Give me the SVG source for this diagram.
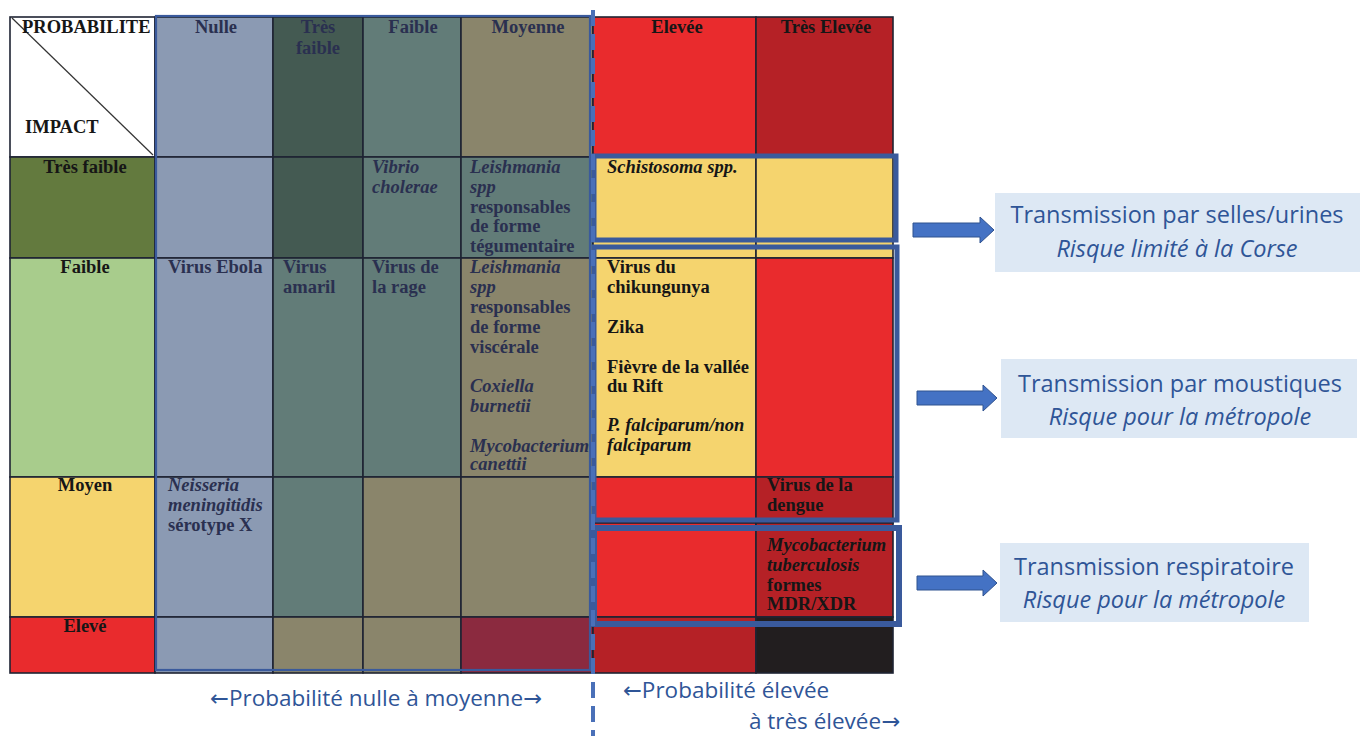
<svg xmlns="http://www.w3.org/2000/svg" width="1365" height="736" viewBox="0 0 1365 736">
<defs>
<style>
.c{stroke:#1F2333;stroke-width:1.6}
.t{font-family:"Liberation Serif","Times New Roman",serif;font-weight:bold;font-size:18.5px;fill:#2A3050}
.k{fill:#161616}
.i{font-style:italic}
.m{text-anchor:middle}
.bx{fill:#DDE8F4}
.bt{font-family:"Open Sans","Liberation Sans",sans-serif;font-size:23.5px;fill:#2F5597;text-anchor:middle}
.bl{font-family:"Open Sans","Liberation Sans",sans-serif;font-size:22.5px;fill:#2F5597}
.ar{font-family:"DejaVu Sans",sans-serif}
.hl{fill:none;stroke:#3A5A9C}
.arr{fill:#4472C4;stroke:#2F528F;stroke-width:1}
</style>
</defs>
<rect width="1365" height="736" fill="#FFFFFF"/>

<!-- header row -->
<g id="corner">
<rect class="c" x="10" y="17" width="145" height="140" fill="#FFFFFF"/>
<line x1="12" y1="18" x2="153" y2="155" stroke="#333" stroke-width="1.2"/>
<text class="t k" x="22" y="33">PROBABILITE</text>
<text class="t k" x="25" y="133">IMPACT</text>
</g>
<g id="h-nulle"><rect class="c" x="155" y="17" width="118" height="140" fill="#8B9AB3"/><text class="t m" x="216" y="33">Nulle</text></g>
<g id="h-tresfaible"><rect class="c" x="273" y="17" width="90" height="140" fill="#445A52"/><text class="t m" x="318" y="33">Très</text><text class="t m" x="318" y="54">faible</text></g>
<g id="h-faible"><rect class="c" x="363" y="17" width="98" height="140" fill="#627C78"/><text class="t m" x="413" y="33">Faible</text></g>
<g id="h-moyenne"><rect class="c" x="461" y="17" width="132" height="140" fill="#8A856B"/><text class="t m" x="528" y="33">Moyenne</text></g>
<g id="h-elevee"><rect class="c" x="593" y="17" width="163" height="140" fill="#E92B2D"/><text class="t m k" x="677" y="33">Elevée</text></g>
<g id="h-treselevee"><rect class="c" x="756" y="17" width="137" height="140" fill="#B52126"/><text class="t m k" x="826" y="33">Très Elevée</text></g>

<!-- row: Très faible -->
<g id="r-tresfaible">
<rect class="c" x="10" y="157" width="145" height="101" fill="#637A3E"/><text class="t m k" x="85" y="173">Très faible</text>
<rect class="c" x="155" y="157" width="118" height="101" fill="#8B9AB3"/>
<rect class="c" x="273" y="157" width="90" height="101" fill="#445A52"/>
<rect class="c" x="363" y="157" width="98" height="101" fill="#627C78"/>
<text class="t i" x="372" y="173">Vibrio</text><text class="t i" x="372" y="193">cholerae</text>
<rect class="c" x="461" y="157" width="132" height="101" fill="#627C78"/>
<text class="t" x="470" y="173"><tspan class="i">Leishmania</tspan><tspan class="i" x="470" y="193">spp</tspan><tspan x="470" y="213">responsables</tspan><tspan x="470" y="232">de forme</tspan><tspan x="470" y="252">tégumentaire</tspan></text>
<rect class="c" x="593" y="157" width="163" height="101" fill="#F5D46E"/>
<text class="t i k" x="607" y="173">Schistosoma spp.</text>
<rect class="c" x="756" y="157" width="137" height="101" fill="#F5D46E"/>
</g>

<!-- row: Faible -->
<g id="r-faible">
<rect class="c" x="10" y="258" width="145" height="219" fill="#A8CC8C"/><text class="t m k" x="85" y="273">Faible</text>
<rect class="c" x="155" y="258" width="118" height="219" fill="#8B9AB3"/>
<text class="t" x="168" y="273">Virus Ebola</text>
<rect class="c" x="273" y="258" width="90" height="219" fill="#627C78"/>
<text class="t" x="283" y="273">Virus</text><text class="t" x="283" y="293">amaril</text>
<rect class="c" x="363" y="258" width="98" height="219" fill="#627C78"/>
<text class="t" x="372" y="273">Virus de</text><text class="t" x="372" y="293">la rage</text>
<rect class="c" x="461" y="258" width="132" height="219" fill="#8A856B"/>
<text class="t" x="470" y="273"><tspan class="i">Leishmania</tspan><tspan class="i" x="470" y="293">spp</tspan><tspan x="470" y="313">responsables</tspan><tspan x="470" y="333">de forme</tspan><tspan x="470" y="353">viscérale</tspan><tspan class="i" x="470" y="392">Coxiella</tspan><tspan class="i" x="470" y="412">burnetii</tspan><tspan class="i" x="470" y="452">Mycobacterium</tspan><tspan class="i" x="470" y="470">canettii</tspan></text>
<rect class="c" x="593" y="258" width="163" height="219" fill="#F5D46E"/>
<text class="t k" x="607" y="273"><tspan>Virus du</tspan><tspan x="607" y="293">chikungunya</tspan><tspan x="607" y="333">Zika</tspan><tspan x="607" y="373">Fièvre de la vallée</tspan><tspan x="607" y="392">du Rift</tspan><tspan class="i" x="607" y="431">P. falciparum/non</tspan><tspan class="i" x="607" y="451">falciparum</tspan></text>
<rect class="c" x="756" y="258" width="137" height="219" fill="#E92B2D"/>
</g>

<!-- row: Moyen -->
<g id="r-moyen">
<rect class="c" x="10" y="477" width="145" height="140" fill="#F5D46E"/><text class="t m k" x="85" y="491">Moyen</text>
<rect class="c" x="155" y="477" width="118" height="140" fill="#8B9AB3"/>
<text class="t" x="168" y="491"><tspan class="i">Neisseria</tspan><tspan class="i" x="168" y="511">meningitidis</tspan><tspan x="168" y="531">sérotype X</tspan></text>
<rect class="c" x="273" y="477" width="90" height="140" fill="#627C78"/>
<rect class="c" x="363" y="477" width="98" height="140" fill="#8A856B"/>
<rect class="c" x="461" y="477" width="132" height="140" fill="#8A856B"/>
<rect class="c" x="593" y="477" width="163" height="46" fill="#E92B2D"/>
<rect class="c" x="756" y="477" width="137" height="46" fill="#B52126"/>
<text class="t k" x="767" y="491">Virus de la</text><text class="t k" x="767" y="511">dengue</text>
<rect class="c" x="593" y="523" width="163" height="94" fill="#E92B2D"/>
<rect class="c" x="756" y="523" width="137" height="94" fill="#B52126"/>
<text class="t k" x="767" y="551"><tspan class="i">Mycobacterium</tspan><tspan class="i" x="767" y="571">tuberculosis</tspan><tspan x="767" y="591">formes</tspan><tspan x="767" y="610">MDR/XDR</tspan></text>
</g>

<!-- row: Elevé -->
<g id="r-eleve">
<rect class="c" x="10" y="617" width="145" height="56" fill="#E92B2D"/><text class="t m k" x="85" y="632">Elevé</text>
<rect class="c" x="155" y="617" width="118" height="56" fill="#8B9AB3"/>
<rect class="c" x="273" y="617" width="90" height="56" fill="#8A856B"/>
<rect class="c" x="363" y="617" width="98" height="56" fill="#8A856B"/>
<rect class="c" x="461" y="617" width="132" height="56" fill="#8B2A3F"/>
<rect class="c" x="593" y="617" width="163" height="56" fill="#B52126"/>
<rect class="c" x="756" y="617" width="137" height="56" fill="#221E1F"/>
</g>

<!-- highlight frames -->
<g id="frames">
<rect class="hl" x="156" y="16" width="434" height="654" stroke-width="2.2"/>
<rect class="hl" x="594" y="156" width="302" height="84" stroke-width="5"/>
<rect class="hl" x="594" y="247" width="303" height="273" stroke-width="5"/>
<rect class="hl" x="594" y="528" width="305" height="96" stroke-width="6"/>
<line x1="593" y1="10" x2="593" y2="736" stroke="#4A70B8" stroke-width="4" stroke-dasharray="16 8"/>
</g>

<!-- callout boxes -->
<g id="box-selles">
<rect class="bx" x="995" y="193" width="365" height="79"/>
<text class="bt" x="1177" y="223">Transmission par selles/urines</text>
<text class="bt" x="1177" y="257" font-style="italic">Risque limité à la Corse</text>
</g>
<g id="box-moustiques">
<rect class="bx" x="1001" y="359" width="356" height="79"/>
<text class="bt" x="1180" y="392">Transmission par moustiques</text>
<text class="bt" x="1180" y="425" font-style="italic">Risque pour la métropole</text>
</g>
<g id="box-respiratoire">
<rect class="bx" x="1000" y="543" width="309" height="79"/>
<text class="bt" x="1154" y="575">Transmission respiratoire</text>
<text class="bt" x="1154" y="608" font-style="italic">Risque pour la métropole</text>
</g>

<!-- connectors -->
<g id="connectors">
<path class="arr" d="M913,223 H980 V217 L994,230 L980,243 V237 H913 Z"/>
<path class="arr" d="M917,391 H983 V385 L997,398 L983,411 V405 H917 Z"/>
<path class="arr" d="M917,576 H983 V570 L997,583 L983,596 V590 H917 Z"/>
</g>

<!-- axis labels -->
<g id="axis-labels">
<text class="bl" x="376" y="706" text-anchor="middle"><tspan class="ar">←</tspan>Probabilité nulle à moyenne<tspan class="ar">→</tspan></text>
<text class="bl" x="623" y="698"><tspan class="ar">←</tspan>Probabilité élevée</text>
<text class="bl" x="900" y="729" text-anchor="end">à très élevée<tspan class="ar">→</tspan></text>
</g>
</svg>
